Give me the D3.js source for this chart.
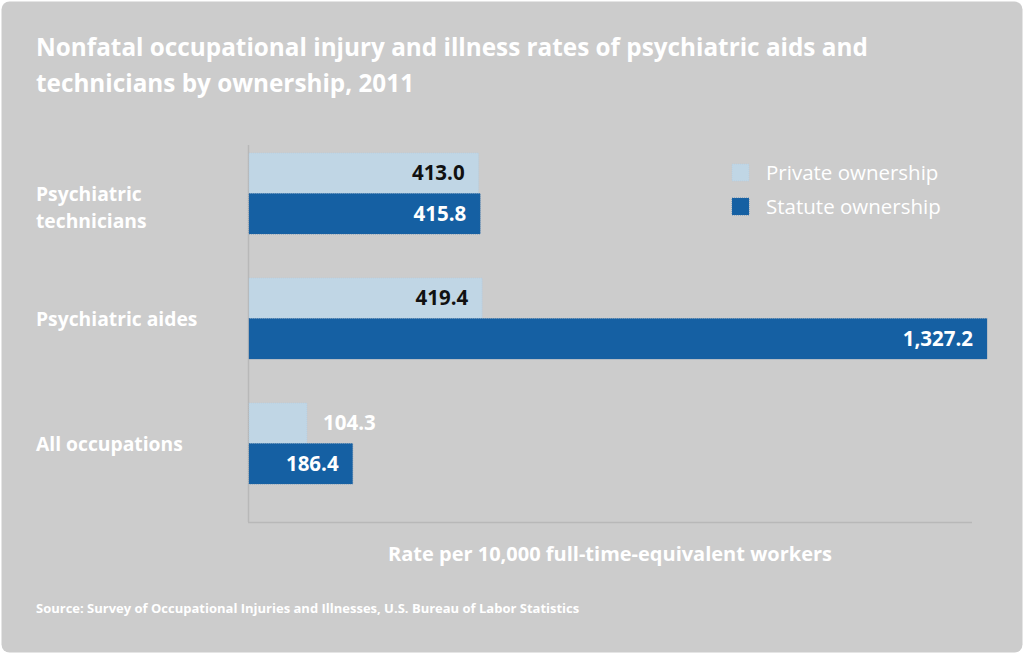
<!DOCTYPE html>
<html><head><meta charset="utf-8">
<script src="https://cdn.jsdelivr.net/npm/d3@7"></script>
<style>html,body{margin:0;padding:0;background:#fff;}svg{display:block;font-family:"Open Sans", "Noto Sans", sans-serif;}</style>
</head><body>
<svg id="chart" width="1024" height="655"></svg>
<script>
const categories = ["Psychiatric technicians", "Psychiatric aides", "All occupations"];
const categoryLines = [["Psychiatric", "technicians"], ["Psychiatric aides"], ["All occupations"]];
const seriesNames = ["Private ownership", "Statute ownership"];
const privateValues = [413.0, 419.4, 104.3];
const statuteValues = [415.8, 1327.2, 186.4];
const title = ["Nonfatal occupational injury and illness rates of psychiatric aids and", "technicians by ownership, 2011"];
const axisTitle = "Rate per 10,000 full-time-equivalent workers";
const source = "Source: Survey of Occupational Injuries and Illnesses, U.S. Bureau of Labor Statistics";

const colors = ["#c0d6e5", "#1560a3"];
const svg = d3.select("#chart");
svg.append("rect").attr("x", 1.5).attr("y", 1.5).attr("width", 1021).attr("height", 651).attr("rx", 8).attr("fill", "#cccccc");

const x = d3.scaleLinear().domain([0, d3.max(statuteValues)]).range([249, 987]);
const y = d3.scaleBand().domain(categories).range([153, 484]).paddingInner(0.352).paddingOuter(0);
const ySub = d3.scaleBand().domain(seriesNames).range([0, y.bandwidth()]);

// axes lines
svg.append("line").attr("x1", 248.5).attr("x2", 248.5).attr("y1", 145).attr("y2", 522).attr("stroke", "#b8b8b8").attr("stroke-width", 1.5);
svg.append("line").attr("x1", 248).attr("x2", 972).attr("y1", 522.5).attr("y2", 522.5).attr("stroke", "#b8b8b8").attr("stroke-width", 1.5);

// title
const t = svg.append("text").attr("fill", "#fff").attr("font-weight", 700).attr("font-size", 24.3);
title.forEach((l, i) => t.append("tspan").attr("x", 36).attr("y", 56 + i * 36).text(l));

const rows = categories.map((c, i) => ({c, vals: [privateValues[i], statuteValues[i]], lines: categoryLines[i]}));
const g = svg.selectAll("g.row").data(rows).enter().append("g").attr("class", "row");
g.each(function(d) {
  const sel = d3.select(this);
  d.vals.forEach((v, j) => {
    const yy = y(d.c) + ySub(seriesNames[j]);
    sel.append("rect").attr("x", x(0)).attr("y", yy).attr("width", x(v) - x(0)).attr("height", ySub.bandwidth())
      .attr("fill", colors[j]).attr("stroke", j === 0 ? "#b3cadb" : "#2a6aa5").attr("stroke-width", 0.6).attr("stroke-dasharray", "1,1");
    const label = d3.format(",.1f")(v);
    const inside = (x(v) - x(0)) > 90;
    sel.append("text")
      .attr("x", inside ? x(v) - 14 : x(v) + 16)
      .attr("y", yy + ySub.bandwidth() / 2 + 7)
      .attr("text-anchor", inside ? "end" : "start")
      .attr("font-size", 20.5).attr("font-weight", 700)
      .attr("fill", j === 0 && inside ? "#111" : "#fff")
      .text(label);
  });
  const n = d.lines.length;
  const cy = y(d.c) + y.bandwidth() / 2;
  d.lines.forEach((l, k) => {
    sel.append("text").attr("x", 36).attr("y", cy + 7 + k * 27)
      .attr("fill", "#fff").attr("font-size", 19.3).attr("font-weight", 700).text(l);
  });
});

// legend
seriesNames.forEach((s, i) => {
  svg.append("rect").attr("x", 732).attr("y", 164 + i * 34).attr("width", 17).attr("height", 17).attr("fill", colors[i])
    .attr("stroke", i === 0 ? "#b3cadb" : "#2a6aa5").attr("stroke-width", 0.6).attr("stroke-dasharray", "1,1");
  svg.append("text").attr("x", 766).attr("y", 180 + i * 34).attr("fill", "#fff").attr("font-size", 20.5).text(s);
});

svg.append("text").attr("x", 610).attr("y", 561).attr("text-anchor", "middle").attr("fill", "#fff")
  .attr("font-size", 20).attr("font-weight", 700).text(axisTitle);
svg.append("text").attr("x", 36).attr("y", 613).attr("fill", "#fff")
  .attr("font-size", 13).attr("font-weight", 700).text(source);
</script>
</body></html>
